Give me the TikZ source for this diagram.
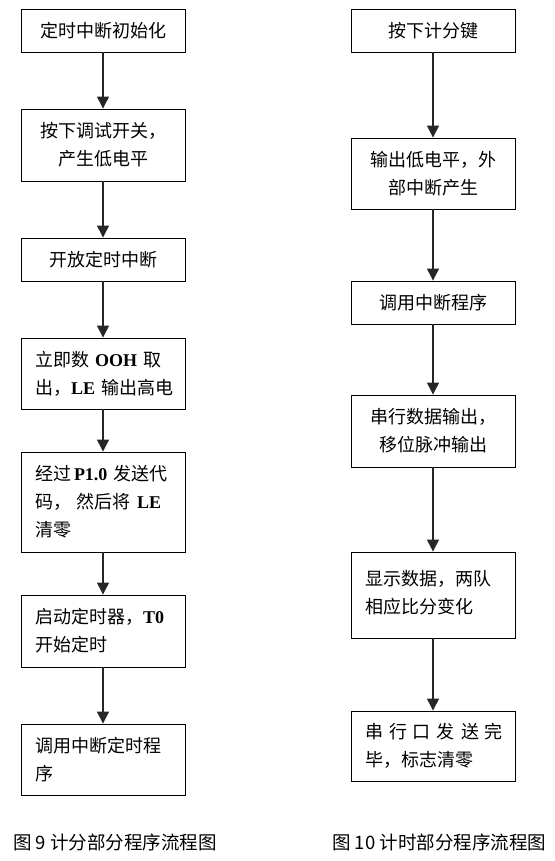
\documentclass[tikz,border=0pt]{standalone}
\usepackage{fontspec}
\setmainfont{Noto Sans CJK SC}
\newfontfamily\lat{Liberation Serif}
\usetikzlibrary{arrows.meta}
\newcommand\latb[1]{{\lat\bfseries #1}}
\newcommand\jline[2][135pt]{\makebox[#1][s]{#2}}
\tikzset{
  box/.style={draw=black, line width=0.9pt, minimum width=164pt, inner sep=0pt,
    font=\fontsize{18}{28}\selectfont, text width=136pt},
  flow/.style={draw=black!85, line width=1.3pt, -{Triangle[width=12pt,length=12pt]}},
  captext/.style={font=\fontsize{18.5}{22}\selectfont, anchor=west, inner sep=0pt}
}
\begin{document}
\begin{tikzpicture}[x=1pt,y=-1pt]
\useasboundingbox (0,0) rectangle (554,861);
% left column
\node[box, minimum height=43pt, align=center] (l1) at (103,30.5) {定时中断初始化};
\node[box, minimum height=72pt, align=center] (l2) at (103,145) {按下调试开关，\\产生低电平};
\node[box, minimum height=43pt, align=center] (l3) at (103,259.5) {开放定时中断};
\node[box, minimum height=71pt, align=left] (l4) at (103,373.5) {\jline[130pt]{立即数 \latb{OOH} 取}\\\jline{出，\latb{LE} 输出高电}};
\node[box, minimum height=100pt, align=left] (l5) at (103,502) {\jline{经过\,\latb{P1.0} 发送代}\\\jline{码， 然后将 \latb{LE}}\\清零};
\node[box, minimum height=72pt, align=left] (l6) at (103,631) {\jline{启动定时器，\latb{T0}}\\开始定时};
\node[box, minimum height=71pt, align=left] (l7) at (103,759.5) {调用中断定时程\\序};
% right column
\node[box, minimum height=43pt, align=center] (r1) at (433,30.5) {按下计分键};
\node[box, minimum height=71pt, align=center] (r2) at (433,173.5) {输出低电平，外\\部中断产生};
\node[box, minimum height=43pt, align=center] (r3) at (433,302.5) {调用中断程序};
\node[box, minimum height=72pt, align=center] (r4) at (433,431) {串行数据输出，\\移位脉冲输出};
\node[box, minimum height=86pt, align=left, text depth=34pt] (r5) at (433,595) {显示数据，两队\\相应比分变化};
\node[box, minimum height=70pt, align=left] (r6) at (433,746) {\jline[137pt]{串 行 口 发 送 完}\\毕，标志清零};
% arrows
\draw[flow] (l1) -- (l2);
\draw[flow] (l2) -- (l3);
\draw[flow] (l3) -- (l4);
\draw[flow] (l4) -- (l5);
\draw[flow] (l5) -- (l6);
\draw[flow] (l6) -- (l7);
\draw[flow] (r1) -- (r2);
\draw[flow] (r2) -- (r3);
\draw[flow] (r3) -- (r4);
\draw[flow] (r4) -- (r5);
\draw[flow] (r5) -- (r6);
% captions
\node[captext] (c1) at (13,842) {图 9 计分部分程序流程图};
\node[captext] (c2) at (332,842) {图 10 计时部分程序流程图};
\end{tikzpicture}
\end{document}
